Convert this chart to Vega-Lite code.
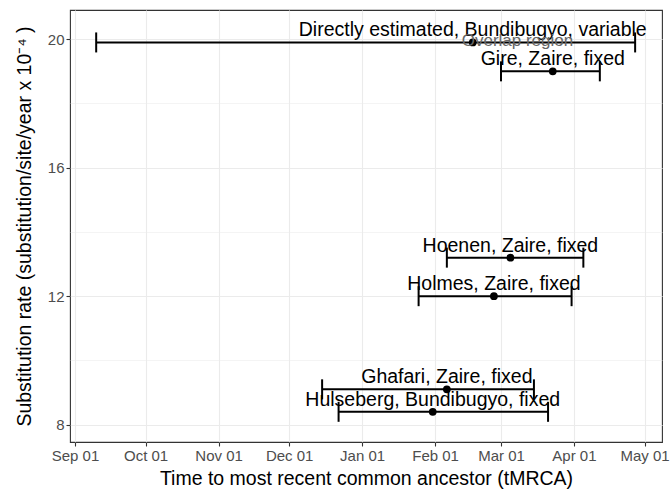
{
  "$schema": "https://vega.github.io/schema/vega-lite/v6.json",
  "width": 592,
  "height": 432,
  "autosize": "none",
  "padding": {"left": 70, "top": 10, "right": 10, "bottom": 58},
  "background": "white",
  "config": {
    "font": "Liberation Sans",
    "view": {"stroke": "#333333", "strokeWidth": 1.1},
    "axis": {
      "domain": false,
      "gridColor": "#EBEBEB",
      "tickColor": "#333333",
      "tickWidth": 1.1,
      "tickSize": 4,
      "labelColor": "#4D4D4D",
      "labelFontSize": 15,
      "labelPadding": 2,
      "labelFlush": false,
      "labelOverlap": false,
      "labelBound": false,
      "titleFontSize": 19.5,
      "titleColor": "black",
      "titleFontWeight": "normal"
    }
  },
  "data": {
    "values": [
      {"study": "Directly estimated, Bundibugyo, variable", "rate": 19.9, "date": "2014-02-17", "lower": "2013-09-10", "upper": "2014-04-27"},
      {"study": "Gire, Zaire, fixed", "rate": 19.0, "date": "2014-03-23", "lower": "2014-03-01", "upper": "2014-04-12"},
      {"study": "Hoenen, Zaire, fixed", "rate": 13.2, "date": "2014-03-05", "lower": "2014-02-06", "upper": "2014-04-05"},
      {"study": "Holmes, Zaire, fixed", "rate": 12.0, "date": "2014-02-26", "lower": "2014-01-25", "upper": "2014-03-31"},
      {"study": "Ghafari, Zaire, fixed", "rate": 9.1, "date": "2014-02-06", "lower": "2013-12-15", "upper": "2014-03-15"},
      {"study": "Hulseberg, Bundibugyo, fixed", "rate": 8.4, "date": "2014-01-31", "lower": "2013-12-22", "upper": "2014-03-21"}
    ]
  },
  "layer": [
    {
      "mark": {"type": "rule", "color": "black", "strokeWidth": 2},
      "encoding": {
        "x": {
          "field": "lower",
          "type": "temporal",
          "scale": {
            "type": "utc",
            "nice": false,
            "domain": [
              {"year": 2013, "month": 8, "date": 29, "hours": 21, "utc": true},
              {"year": 2014, "month": 5, "date": 8, "hours": 10, "utc": true}
            ]
          },
          "axis": {
            "title": "Time to most recent common ancestor (tMRCA)",
            "titlePadding": 6,
            "format": "%b %d",
            "values": [
              {"year": 2013, "month": 9, "date": 1, "utc": true},
              {"year": 2013, "month": 9, "date": 16, "utc": true},
              {"year": 2013, "month": 10, "date": 1, "utc": true},
              {"year": 2013, "month": 10, "date": 16, "hours": 12, "utc": true},
              {"year": 2013, "month": 11, "date": 1, "utc": true},
              {"year": 2013, "month": 11, "date": 16, "utc": true},
              {"year": 2013, "month": 12, "date": 1, "utc": true},
              {"year": 2013, "month": 12, "date": 16, "hours": 12, "utc": true},
              {"year": 2014, "month": 1, "date": 1, "utc": true},
              {"year": 2014, "month": 1, "date": 16, "hours": 12, "utc": true},
              {"year": 2014, "month": 2, "date": 1, "utc": true},
              {"year": 2014, "month": 2, "date": 15, "utc": true},
              {"year": 2014, "month": 3, "date": 1, "utc": true},
              {"year": 2014, "month": 3, "date": 16, "hours": 12, "utc": true},
              {"year": 2014, "month": 4, "date": 1, "utc": true},
              {"year": 2014, "month": 4, "date": 16, "utc": true},
              {"year": 2014, "month": 5, "date": 1, "utc": true}
            ],
            "labelExpr": "utcdate(datum.value) == 1 ? datum.label : ''",
            "tickOpacity": {"condition": {"test": "utcdate(datum.value) == 1", "value": 1}, "value": 0},
            "gridWidth": {"condition": {"test": "utcdate(datum.value) == 1", "value": 1.1}, "value": 0.55}
          }
        },
        "x2": {"field": "upper"},
        "y": {
          "field": "rate",
          "type": "quantitative",
          "scale": {"domain": [7.46, 20.91], "nice": false, "zero": false},
          "axis": {
            "title": "Substitution rate (substitution/site/year x 10⁻⁴ )",
            "titlePadding": 13,
            "values": [8, 10, 12, 14, 16, 18, 20],
            "labelExpr": "datum.value % 4 == 0 ? datum.label : ''",
            "tickOpacity": {"condition": {"test": "datum.value % 4 == 0", "value": 1}, "value": 0},
            "gridWidth": {"condition": {"test": "datum.value % 4 == 0", "value": 1.1}, "value": 0.55}
          }
        }
      }
    },
    {
      "mark": {"type": "tick", "orient": "vertical", "size": 20, "thickness": 2, "color": "black", "opacity": 1},
      "encoding": {
        "x": {"field": "lower", "type": "temporal"},
        "y": {"field": "rate", "type": "quantitative"}
      }
    },
    {
      "mark": {"type": "tick", "orient": "vertical", "size": 20, "thickness": 2, "color": "black", "opacity": 1},
      "encoding": {
        "x": {"field": "upper", "type": "temporal"},
        "y": {"field": "rate", "type": "quantitative"}
      }
    },
    {
      "mark": {"type": "point", "filled": true, "size": 60, "color": "black", "opacity": 1},
      "encoding": {
        "x": {"field": "date", "type": "temporal"},
        "y": {"field": "rate", "type": "quantitative"}
      }
    },
    {
      "mark": {"type": "text", "fontSize": 19.5, "dy": -6, "baseline": "alphabetic", "align": "center", "color": "black"},
      "encoding": {
        "x": {"field": "date", "type": "temporal"},
        "y": {"field": "rate", "type": "quantitative"},
        "text": {"field": "study", "type": "nominal"}
      }
    },
    {
      "data": {"values": [{"label": "Overlap region", "date": "2014-03-08", "rate": 19.9}]},
      "mark": {"type": "text", "fontSize": 17, "baseline": "middle", "dy": -1, "align": "center", "color": "#666666"},
      "encoding": {
        "x": {"field": "date", "type": "temporal"},
        "y": {"field": "rate", "type": "quantitative"},
        "text": {"field": "label", "type": "nominal"}
      }
    }
  ]
}
